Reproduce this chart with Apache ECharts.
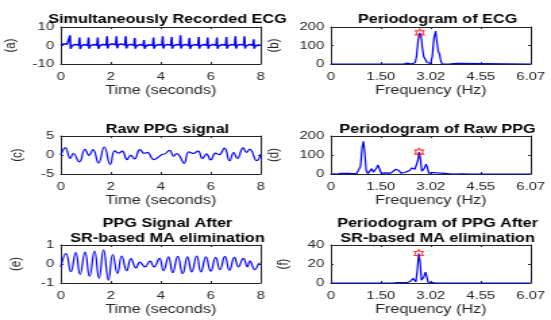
<!DOCTYPE html>
<html>
<head>
<meta charset="utf-8">
<script src="https://cdn.jsdelivr.net/npm/echarts@6/dist/echarts.min.js"></script>
<style>
html,body{margin:0;padding:0;background:#fff;overflow:hidden;}
#wrap{width:551px;height:320px;overflow:hidden;}
#chart{width:408px;height:320px;transform:scaleX(1.35049);transform-origin:0 0;}
</style>
</head>
<body>
<div id="wrap"><div id="chart"></div></div>
<script>
// ---------- data ----------
const panelTitles = ['Simultaneously Recorded ECG', 'Periodogram of ECG', 'Raw PPG signal', 'Periodogram of Raw PPG', 'PPG Signal After\nSR-based MA elimination', 'Periodogram of PPG After\nSR-based MA elimination'];
const panelLetters = ['(a)', '(b)', '(c)', '(d)', '(e)', '(f)'];
const timeAxisName = 'Time (seconds)';
const freqAxisName = 'Frequency (Hz)';
const freqTickLabels = ['0', '1.50', '3.02', '4.55', '6.07'];

// (a) ECG, [time s, amplitude]
const ecgSignal = [
[0,0.2],[0.12,0.9],[0.25,0.6],
[0.34,0.2],[0.37,5.5],[0.395,-1.8],[0.43,-0.3],[0.56,0.6],
[0.72,0.1],[0.75,4.3],[0.775,-1.9],[0.81,-0.4],[0.93,0.5],
[1.08,0.0],[1.11,4.3],[1.135,-1.7],[1.17,-0.2],[1.3,0.5],
[1.45,0.1],[1.48,4.3],[1.505,-1.8],[1.54,-0.3],[1.67,0.6],
[1.82,0.3],[1.85,5.0],[1.875,-1.6],[1.91,0.2],[2.04,0.9],
[2.2,0.4],[2.23,5.0],[2.255,-1.5],[2.29,0.3],[2.42,0.9],
[2.57,0.3],[2.60,5.0],[2.625,-1.6],[2.66,0.0],[2.79,0.6],
[2.93,0.1],[2.96,4.1],[2.985,-1.7],[3.02,-0.3],[3.15,0.5],
[3.30,0.0],[3.33,2.9],[3.355,-1.8],[3.39,-0.4],[3.52,0.4],
[3.68,0.1],[3.71,4.3],[3.735,-1.7],[3.77,-0.2],[3.9,0.5],
[4.05,0.2],[4.08,5.0],[4.105,-1.6],[4.14,-0.1],[4.27,0.6],
[4.41,0.1],[4.44,4.6],[4.465,-1.7],[4.50,-0.2],[4.63,0.5],
[4.76,0.2],[4.79,5.5],[4.815,-1.6],[4.85,-0.1],[4.98,0.6],
[5.12,0.0],[5.15,4.1],[5.175,-1.8],[5.21,-0.3],[5.34,0.5],
[5.49,0.1],[5.52,4.6],[5.545,-1.7],[5.58,-0.2],[5.71,0.5],
[5.85,0.1],[5.88,4.3],[5.905,-1.7],[5.94,-0.2],[6.07,0.5],
[6.22,0.1],[6.25,4.3],[6.275,-1.8],[6.31,-0.3],[6.44,0.5],
[6.60,0.1],[6.63,4.6],[6.655,-1.7],[6.69,-0.2],[6.82,0.5],
[6.96,0.2],[6.99,5.0],[7.015,-1.6],[7.05,-0.1],[7.18,0.6],
[7.32,0.2],[7.35,5.0],[7.375,-1.6],[7.41,-0.2],[7.54,0.5],
[7.69,0.1],[7.72,3.4],[7.745,-1.7],[7.78,-0.3],[7.91,0.3],[8,0.1]
];

// (b) periodogram of ECG, [Hz, power]
const ecgPeriodogram = [
[0,0],[2.2,0],[2.28,2],[2.33,5],[2.38,1],[2.45,0],[2.52,3],[2.56,8],[2.6,40],[2.65,130],[2.7,168],[2.74,150],[2.78,85],
[2.82,40],[2.87,30],[2.92,8],[2.96,2],[3.0,14],[3.03,3],[3.08,40],[3.13,140],[3.18,178],[3.22,120],[3.26,68],[3.3,55],
[3.34,15],[3.38,0],[3.43,3],[3.48,0],[3.54,3],[3.6,0],[3.72,2],[3.8,0],[3.86,3],[3.92,0],[6.07,0]
];
const ecgPeak = [[2.7,168]];

// (c) raw PPG, [time s, amplitude]
const rawPpg = [
[0,0],[0.18,1.9],[0.38,-0.9],[0.5,0.4],[0.74,-1.8],[0.97,1.5],[1.13,-0.1],[1.29,1.4],[1.51,-2.1],[1.74,2.1],
[1.98,-2.5],[2.16,1.1],[2.31,0.5],[2.46,1.0],[2.65,-1.2],[2.8,-0.1],[2.95,-1.0],[3.17,1.4],[3.34,0.4],[3.46,0.7],
[3.72,-1.2],[3.9,-0.6],[4.05,0.1],[4.17,0.3],[4.35,1.2],[4.52,-0.3],[4.63,0.4],[4.76,-0.3],[4.93,-2.2],[5.13,0.8],
[5.3,0.4],[5.49,1.0],[5.67,-0.9],[5.83,0.3],[6.0,-1.3],[6.19,0.5],[6.34,0.1],[6.55,1.8],[6.76,-1.5],[6.92,0.6],
[7.07,-0.9],[7.3,1.9],[7.43,0.7],[7.56,1.5],[7.85,-1.5],[8,0.2]
];

// (d) periodogram of raw PPG
const rawPeriodogram = [
[0,0],[0.1,1],[0.2,0],[0.3,3],[0.38,0],[0.45,4],[0.52,1],[0.6,3],[0.68,0],[0.78,2],[0.85,5],[0.9,40],[0.95,140],
[0.99,172],[1.03,110],[1.07,20],[1.12,2],[1.18,10],[1.24,28],[1.29,10],[1.33,3],[1.38,30],[1.43,47],[1.48,25],
[1.53,3],[1.6,2],[1.68,6],[1.75,3],[1.82,5],[1.9,10],[1.97,25],[2.02,30],[2.07,18],[2.12,5],[2.18,3],[2.25,8],
[2.32,12],[2.4,20],[2.46,32],[2.51,38],[2.55,25],[2.59,18],[2.64,70],[2.68,115],[2.72,80],[2.76,15],[2.8,5],
[2.84,30],[2.89,52],[2.93,35],[2.97,5],[3.03,3],[3.1,8],[3.15,3],[3.22,6],[3.28,2],[3.35,5],[3.42,1],[3.55,2],
[3.7,0],[4.0,1],[4.2,0],[6.07,0]
];
const rawPeak = [[2.68,115]];

// (e) PPG after SR-based MA elimination
const cleanPpg = [
[0,-0.15],[0.21,0.55],[0.40,-0.4],[0.60,0.6],[0.77,-0.55],[0.97,0.62],[1.15,-0.65],[1.35,0.68],[1.53,-0.75],
[1.71,0.75],[1.91,-0.85],[2.08,0.5],[2.27,-0.5],[2.44,0.42],[2.64,-0.35],[2.81,0.28],[3.01,-0.2],[3.17,0.1],
[3.37,-0.15],[3.57,0.15],[3.73,-0.15],[3.95,0.3],[4.11,-0.35],[4.31,0.38],[4.48,-0.45],[4.68,0.4],[4.88,-0.5],
[5.07,0.37],[5.24,-0.42],[5.44,0.42],[5.61,-0.42],[5.81,0.38],[6.0,-0.38],[6.2,0.35],[6.37,-0.3],[6.57,0.4],
[6.75,-0.33],[6.95,0.35],[7.11,-0.15],[7.31,0.3],[7.47,-0.15],[7.57,0.15],[7.77,-0.3],[7.97,0.05],[8,0.05]
];

// (f) periodogram of cleaned PPG
const cleanPeriodogram = [
[0,0],[1.9,0],[1.95,1],[2.0,0.5],[2.05,1],[2.1,0.3],[2.2,0.5],[2.3,0.3],[2.4,1.5],[2.46,3],[2.5,4.8],[2.54,3],
[2.58,1],[2.62,12],[2.67,31],[2.71,22],[2.75,3],[2.78,1],[2.82,6],[2.87,11.5],[2.91,7],[2.95,1],[3.0,0.5],
[3.1,0.3],[3.2,0],[6.07,0]
];
const cleanPeak = [[2.67,31]];

// y-axis ranges per panel
const yMins = [-10, 0, -5, 0, -1, 0];
const yMaxs = [10, 200, 5, 200, 1, 40];
const yIntervals = [10, 100, 5, 100, 1, 20];

// ---------- layout ----------
const FONT = 'Liberation Sans, Arial, Helvetica, sans-serif';
const TXT = '#262626';
const colLeft = [45, 245];
const plotW = 148;
const rowTop = [27, 136, 245];
const rowH = [37, 38, 38];
const titleTop = [7.5, 117, 211.5];
const yNameGaps = [30, 35, 25, 35, 26, 28];
const lineData = [ecgSignal, ecgPeriodogram, rawPpg, rawPeriodogram, cleanPpg, cleanPeriodogram];
const peakData = [null, ecgPeak, null, rawPeak, null, cleanPeak];
const hexagram = 'path://M0,-100 L-28.9,-50 L-86.6,-50 L-57.7,0 L-86.6,50 L-28.9,50 L0,100 L28.9,50 L86.6,50 L57.7,0 L86.6,-50 L28.9,-50 Z';

const grids = [], xAxes = [], yAxes = [], series = [], titles = [];
const FREQ_MAX = 6.07, FREQ_STEP = 6.07 / 4;
for (let i = 0; i < 6; i++) {
  const col = i % 2, row = Math.floor(i / 2);
  grids.push({left: colLeft[col], top: rowTop[row], width: plotW, height: rowH[row], containLabel: false});
  const isFreq = col === 1;
  const axLine = {show: true, onZero: false, lineStyle: {color: TXT, width: 1}};
  const tick = {show: true, inside: true, length: 2, lineStyle: {color: TXT, width: 1}};
  xAxes.push({
    type: 'value', gridIndex: i, position: 'bottom',
    min: 0, max: isFreq ? FREQ_MAX : 8, interval: isFreq ? FREQ_STEP : 2,
    axisLine: axLine, axisTick: tick, splitLine: {show: false},
    axisLabel: {show: true, fontSize: 11, margin: 7, color: TXT, fontFamily: FONT, showMinLabel: true, showMaxLabel: true, hideOverlap: false,
      formatter: isFreq ? (v => freqTickLabels[Math.round(v / FREQ_STEP)]) : (v => String(v))},
    name: isFreq ? freqAxisName : timeAxisName, nameLocation: 'middle', nameGap: 21,
    nameTextStyle: {fontSize: 12, color: TXT, fontFamily: FONT}
  });
  xAxes.push({
    type: 'value', gridIndex: i, position: 'top',
    min: 0, max: isFreq ? FREQ_MAX : 8, interval: isFreq ? FREQ_STEP : 2,
    axisLine: axLine, axisTick: tick, splitLine: {show: false}, axisLabel: {show: false}
  });
  yAxes.push({
    type: 'value', gridIndex: i, position: 'left',
    min: yMins[i], max: yMaxs[i], interval: yIntervals[i],
    axisLine: axLine, axisTick: tick, splitLine: {show: false},
    axisLabel: {show: true, fontSize: 11, margin: 5, color: TXT, fontFamily: FONT, showMinLabel: true, showMaxLabel: true},
    name: panelLetters[i], nameLocation: 'middle', nameRotate: 90, nameGap: yNameGaps[i] + 1,
    nameTextStyle: {fontSize: 11.5, color: TXT, fontFamily: FONT}
  });
  yAxes.push({
    type: 'value', gridIndex: i, position: 'right',
    min: yMins[i], max: yMaxs[i], interval: yIntervals[i],
    axisLine: axLine, axisTick: tick, splitLine: {show: false}, axisLabel: {show: false}
  });
  series.push({
    type: 'line', xAxisIndex: 2 * i, yAxisIndex: 2 * i, data: lineData[i],
    showSymbol: false, smooth: (i === 2 || i === 4) ? 0.5 : false,
    lineStyle: {color: '#0000ff', width: i === 0 ? 1.5 : 1.2}, itemStyle: {color: '#0000ff'},
    silent: true, z: 2
  });
  if (peakData[i]) {
    series.push({
      type: 'scatter', xAxisIndex: 2 * i, yAxisIndex: 2 * i, data: peakData[i],
      symbol: hexagram, symbolSize: [6.5, 8],
      itemStyle: {color: 'rgba(0,0,0,0)', borderColor: '#ff0000', borderWidth: 1},
      silent: true, z: 3
    });
  }
  titles.push({
    text: panelTitles[i], left: colLeft[col] + plotW / 2, top: titleTop[row], textAlign: 'center',
    textStyle: {fontSize: 12, fontWeight: 'bold', color: '#000', fontFamily: FONT, lineHeight: 15}
  });
}

const chart = echarts.init(document.getElementById('chart'), null, {renderer: 'canvas', width: 408, height: 320});
chart.setOption({
  animation: false,
  backgroundColor: '#fff',
  title: titles,
  grid: grids,
  xAxis: xAxes,
  yAxis: yAxes,
  series: series
});
</script>
</body>
</html>
